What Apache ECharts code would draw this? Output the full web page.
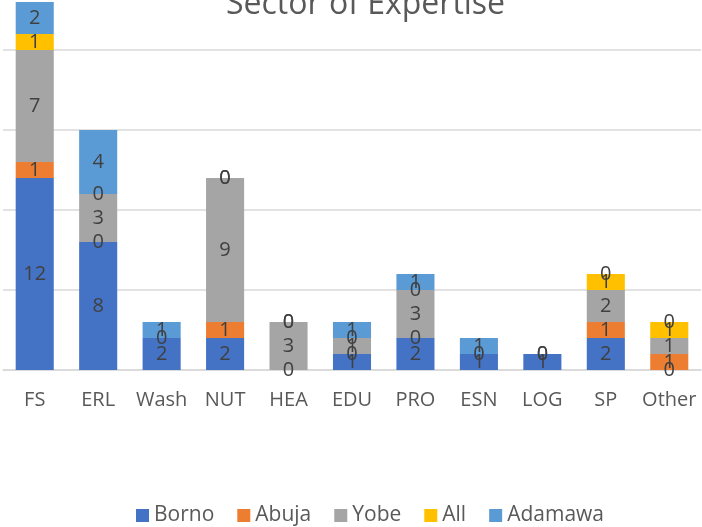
<!DOCTYPE html>
<html>
<head>
<meta charset="utf-8">
<script src="https://cdn.jsdelivr.net/npm/echarts@6/dist/echarts.min.js"></script>
<style>
  html, body { margin: 0; padding: 0; background: #fff; overflow: hidden; }
  /* chart is taller than the window and shifted up so the top of the plot and title are clipped */
  #chart { width: 702px; height: 557px; margin-top: -30px; }
</style>
</head>
<body>
<div id="chart"></div>
<script>
const categories = ['FS', 'ERL', 'Wash', 'NUT', 'HEA', 'EDU', 'PRO', 'ESN', 'LOG', 'SP', 'Other']
const borno   = [12, 8, 2, 2, 0, 1, 2, 1, 1, 2, 0]
const abuja   = [1, 0, 0, 1, null, 0, 0, 0, 0, 1, 1]
const yobe    = [7, 3, null, 9, 3, 1, 3, null, null, 2, 1]
const all     = [1, 0, null, 0, 0, 0, 0, null, null, 1, 1]
const adamawa = [2, 4, 1, 0, 0, 1, 1, 1, 0, 0, 0]

const seriesDefs = [
  { name: 'Borno', data: borno, color: '#4472C4' },
  { name: 'Abuja', data: abuja, color: '#ED7D31' },
  { name: 'Yobe', data: yobe, color: '#A5A5A5' },
  { name: 'All', data: all, color: '#FFC000' },
  { name: 'Adamawa', data: adamawa, color: '#5B9BD5' }
]

const font = '"Open Sans", "Noto Sans", sans-serif'
const chart = echarts.init(document.getElementById('chart'))

const option = {
  animation: false,
  textStyle: { fontFamily: font },
  title: {
    text: 'Sector of Expertise',
    left: 221,
    top: 14,
    textStyle: { fontSize: 32, fontWeight: 'normal', color: '#595959', fontFamily: font }
  },
  legend: {
    bottom: -4,
    left: 131,
    itemWidth: 13,
    itemHeight: 13,
    itemGap: 23,
    icon: 'rect',
    textStyle: { fontSize: 21, color: '#595959', fontFamily: font }
  },
  grid: { left: 3, right: 1, top: 0, bottom: 157 },
  xAxis: {
    type: 'category',
    data: categories,
    axisLine: { lineStyle: { color: '#d9d9d9', width: 1.5 } },
    axisTick: { show: false },
    axisLabel: { color: '#595959', fontSize: 20, margin: 20, interval: 0, fontFamily: font }
  },
  yAxis: {
    type: 'value',
    min: 0,
    max: 25,
    interval: 5,
    axisLabel: { show: false },
    axisLine: { show: false },
    axisTick: { show: false },
    splitLine: { lineStyle: { color: '#d9d9d9', width: 1.5 } }
  },
  series: seriesDefs.map(s => ({
    name: s.name,
    type: 'bar',
    stack: 'total',
    barCategoryGap: '40%',
    data: s.data,
    itemStyle: { color: s.color },
    label: {
      show: true,
      position: 'inside',
      color: '#404040',
      fontSize: 20,
      fontFamily: font
    }
  }))
}

chart.setOption(option)
</script>
</body>
</html>
